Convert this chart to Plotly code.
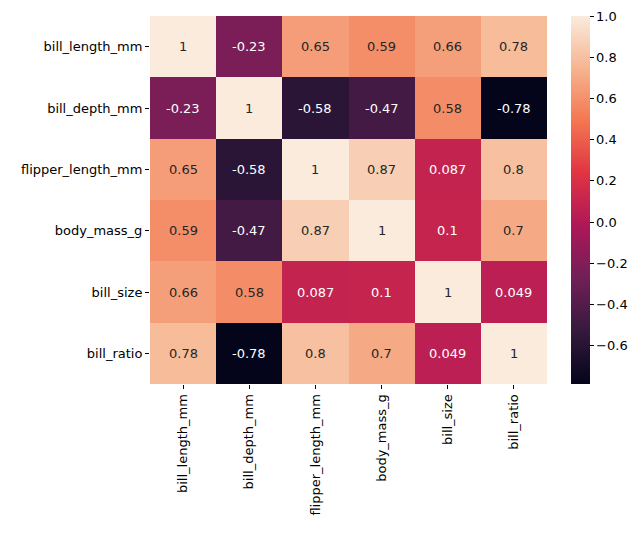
import plotly.graph_objects as go

labels = ["bill_length_mm", "bill_depth_mm", "flipper_length_mm", "body_mass_g", "bill_size", "bill_ratio"]
corr = [
    [1, -0.23, 0.65, 0.59, 0.66, 0.78],
    [-0.23, 1, -0.58, -0.47, 0.58, -0.78],
    [0.65, -0.58, 1, 0.87, 0.087, 0.8],
    [0.59, -0.47, 0.87, 1, 0.1, 0.7],
    [0.66, 0.58, 0.087, 0.1, 1, 0.049],
    [0.78, -0.78, 0.8, 0.7, 0.049, 1],
]
zmin = -0.785
zmax = 1.0
cbar_ticks = [-0.6, -0.4, -0.2, 0.0, 0.2, 0.4, 0.6, 0.8, 1.0]

rocket = [
    (0.0, (3, 5, 26)),
    (1 / 7, (53, 25, 62)),
    (2 / 7, (112, 31, 87)),
    (3 / 7, (173, 23, 89)),
    (4 / 7, (225, 51, 66)),
    (5 / 7, (243, 118, 81)),
    (6 / 7, (246, 180, 143)),
    (1.0, (250, 235, 221)),
]
colorscale = [[p, "rgb(%d,%d,%d)" % c] for p, c in rocket]


def interp(t):
    for (p0, c0), (p1, c1) in zip(rocket[:-1], rocket[1:]):
        if p0 <= t <= p1:
            f = (t - p0) / (p1 - p0) if p1 > p0 else 0
            return [c0[i] + f * (c1[i] - c0[i]) for i in range(3)]
    return list(rocket[-1][1])


def lum(rgb):
    out = []
    for c in rgb:
        c = c / 255.0
        out.append(c / 12.92 if c <= 0.03928 else ((c + 0.055) / 1.055) ** 2.4)
    return 0.2126 * out[0] + 0.7152 * out[1] + 0.0722 * out[2]


fig = go.Figure(
    go.Heatmap(
        z=corr,
        x=labels,
        y=labels,
        zmin=zmin,
        zmax=zmax,
        colorscale=colorscale,
        xgap=0,
        ygap=0,
        showscale=True,
        colorbar=dict(
            x=1.0605,
            xanchor="left",
            y=0.5,
            yanchor="middle",
            len=1.0,
            lenmode="fraction",
            ypad=0,
            xpad=0,
            thickness=19,
            thicknessmode="pixels",
            outlinewidth=0,
            tickvals=cbar_ticks,
            ticktext=["%.1f" % v if v >= 0 else "\u2212%.1f" % (-v) for v in cbar_ticks],
            ticks="outside",
            ticklen=4,
            tickcolor="black",
            tickfont=dict(family="DejaVu Sans", size=13, color="black"),
        ),
        hoverinfo="skip",
    )
)

annotations = []
for i, row in enumerate(corr):
    for j, v in enumerate(row):
        t = (v - zmin) / (zmax - zmin)
        color = "#262626" if lum(interp(t)) > 0.3 else "white"
        annotations.append(
            dict(
                x=labels[j],
                y=labels[i],
                text=f"{v:.2g}",
                showarrow=False,
                font=dict(family="DejaVu Sans", size=13, color=color),
            )
        )

fig.update_layout(
    width=635,
    height=526,
    margin=dict(l=142, r=96, t=8, b=150, autoexpand=False),
    paper_bgcolor="white",
    plot_bgcolor="white",
    annotations=annotations,
    font=dict(family="DejaVu Sans", size=13, color="black"),
)
fig.update_xaxes(
    automargin=False,
    tickangle=-90,
    ticks="outside",
    ticklen=4,
    tickcolor="black",
    showgrid=False,
    zeroline=False,
    showline=False,
    tickfont=dict(family="DejaVu Sans", size=13, color="black"),
)
fig.update_yaxes(
    automargin=False,
    autorange="reversed",
    ticks="outside",
    ticklen=4,
    tickcolor="black",
    showgrid=False,
    zeroline=False,
    showline=False,
    tickfont=dict(family="DejaVu Sans", size=13, color="black"),
)

fig.write_html("out.html")
